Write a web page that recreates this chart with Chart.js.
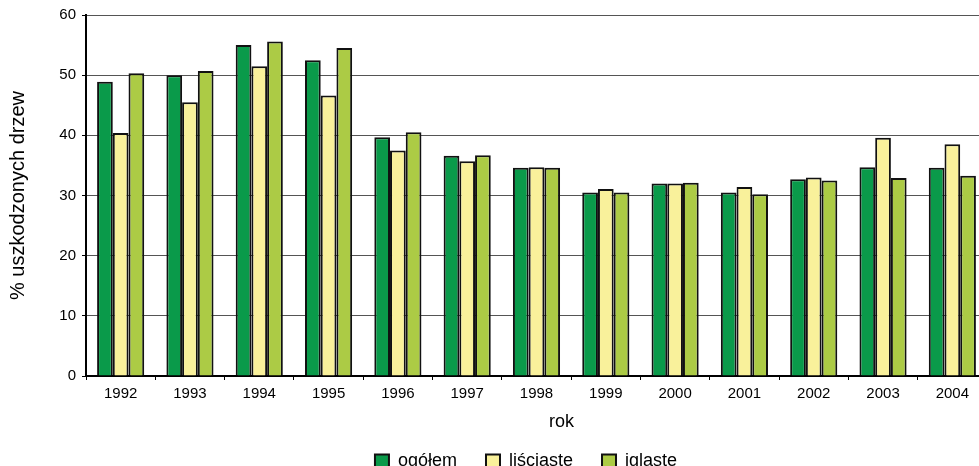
<!DOCTYPE html>
<html>
<head>
<meta charset="utf-8">
<script src="https://cdn.jsdelivr.net/npm/chart.js@4.4.1/dist/chart.umd.min.js"></script>
<style>
html,body{margin:0;padding:0;background:#fff;overflow:hidden;}
#wrap{position:absolute;left:0;top:0;width:1052px;height:480px;}
</style>
</head>
<body>
<div id="wrap"><canvas id="chart" width="1052" height="480"></canvas></div>
<script>
// ---- dane ----
const years = ['1992','1993','1994','1995','1996','1997','1998','1999','2000','2001','2002','2003','2004'];
const ogolem    = [48.9, 50.0, 55.0, 52.5, 39.7, 36.6, 34.6, 30.5, 32.0, 30.5, 32.7, 34.7, 34.6];
const lisciaste = [40.4, 45.5, 51.5, 46.6, 37.5, 35.7, 34.7, 31.1, 32.0, 31.4, 33.0, 39.6, 38.5];
const iglaste   = [50.3, 50.7, 55.6, 54.5, 40.5, 36.7, 34.6, 30.5, 32.1, 30.2, 32.5, 32.9, 33.3];
const yTicks = [0, 10, 20, 30, 40, 50, 60];
const seriesNames = ['ogółem', 'liściaste', 'iglaste'];
const yTitle = '% uszkodzonych drzew';
const xTitle = 'rok';

const FONT = '"Liberation Sans", Arial, sans-serif';
const colors = ['#0a9a4a', '#f9f19b', '#accb45'];

// ---- podpis osi X (przesunięty jak w oryginale) ----
const rokLabel = {
  id: 'rokLabel',
  afterDraw(chart){
    const {ctx, chartArea} = chart;
    ctx.save();
    ctx.font = '18px ' + FONT;
    ctx.fillStyle = '#000';
    ctx.textAlign = 'center';
    ctx.textBaseline = 'alphabetic';
    ctx.fillText(xTitle, (chartArea.left + chartArea.right) / 2 + 25, chartArea.bottom + 51);
    ctx.restore();
  }
};

const mkSet = (i, data) => ({
  label: seriesNames[i],
  data,
  backgroundColor: colors[i],
  borderColor: '#111',
  borderWidth: 2,
  barPercentage: 1,
  categoryPercentage: 0.68
});

new Chart(document.getElementById('chart').getContext('2d'), {
  type: 'bar',
  data: {
    labels: years,
    datasets: [mkSet(0, ogolem), mkSet(1, lisciaste), mkSet(2, iglaste)]
  },
  plugins: [rokLabel],
  options: {
    responsive: false,
    animation: false,
    layout: { padding: { top: 15, left: 0, right: 0, bottom: 0 } },
    scales: {
      x: {
        grid: { display: true, drawOnChartArea: false, offset: true, tickLength: 4, color: '#000', tickColor: '#000' },
        border: { display: true, color: '#000', width: 2 },
        ticks: { color: '#000', padding: 5, maxRotation: 0, autoSkip: false, font: { family: FONT, size: 15 } },
        afterFit: s => { s.height = 47; }
      },
      y: {
        min: 0, max: 60,
        afterBuildTicks: s => { s.ticks = yTicks.map(v => ({ value: v })); },
        grid: { color: '#555', lineWidth: 1, tickLength: 4, tickColor: '#000' },
        border: { display: true, color: '#000', width: 2 },
        ticks: { color: '#000', padding: 6, font: { family: FONT, size: 15 } },
        title: { display: true, text: yTitle, color: '#000', padding: { top: 6, bottom: 0 }, font: { family: FONT, size: 20, lineHeight: 1.2 } },
        afterFit: s => { s.width = 86; }
      },
      // pusta oś po prawej: obszar wykresu wychodzi poza kadr
      yR: {
        position: 'right',
        display: true,
        grid: { display: false },
        border: { display: false },
        ticks: { display: false },
        afterFit: s => { s.width = 65; }
      }
    },
    plugins: {
      legend: {
        position: 'bottom',
        labels: { color: '#000', boxWidth: 14, boxHeight: 13, padding: 29, font: { family: FONT, size: 18 } }
      },
      tooltip: { enabled: false }
    }
  }
});
</script>
</body>
</html>
